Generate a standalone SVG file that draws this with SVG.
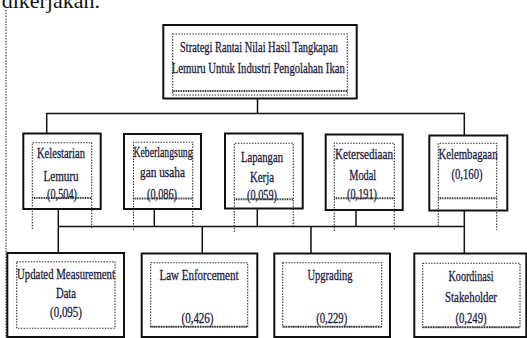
<svg xmlns="http://www.w3.org/2000/svg" width="527" height="338" viewBox="0 0 527 338">
<style>
.outer{fill:#fff;stroke:#111;stroke-width:2}
.inner{fill:none;stroke:#333;stroke-width:1.1;stroke-dasharray:1.5 1.3}
.wavy{fill:none;stroke:#333;stroke-width:2;stroke-dasharray:1 0.7}
.conn{fill:none;stroke:#111;stroke-width:1.5}
.dot{fill:none;stroke:#333;stroke-width:1.1;stroke-dasharray:1.5 1.3}
text{font-family:"Liberation Serif","Times New Roman",serif;font-size:14.5px;fill:#1c1c3c;stroke:#1c1c3c;stroke-width:0.3;text-anchor:middle}
.big{font-size:22px;fill:#111;stroke:none;text-anchor:end}
</style>
<rect width="527" height="338" fill="#fff"/>
<text class="big" x="100" y="8">dikerjakan.</text>
<line class="dot" x1="6" y1="10" x2="6" y2="338"/>

<g id="connectors">
<line class="conn" x1="257.5" y1="99" x2="257.5" y2="113.5"/>
<polyline class="conn" points="46.7,133.5 46.7,113.5 464.3,113.5 464.3,135.5"/>
<line class="conn" x1="58.3" y1="209" x2="58.3" y2="253"/>
<line class="conn" x1="154.3" y1="209" x2="154.3" y2="226.5"/>
<line class="conn" x1="257.3" y1="208.5" x2="257.3" y2="226.5"/>
<line class="conn" x1="356" y1="210" x2="356" y2="226.5"/>
<line class="conn" x1="464.3" y1="210.5" x2="464.3" y2="253"/>
<line class="conn" x1="58.3" y1="226.5" x2="464.3" y2="226.5"/>
<line class="conn" x1="202.3" y1="226.5" x2="202.3" y2="253.5"/>
<line class="conn" x1="311" y1="226.5" x2="311" y2="253.5"/>
</g>

<g id="root">
<rect class="outer" x="163.3" y="25" width="193.4" height="73.5"/>
<rect class="inner" x="172.7" y="34" width="174.6" height="61"/>
<line class="wavy" x1="172.7" y1="91" x2="347.3" y2="91"/>
<text x="259" y="52" textLength="158" lengthAdjust="spacingAndGlyphs">Strategi Rantai Nilai Hasil Tangkapan</text>
<text x="258.3" y="72.5" textLength="173" lengthAdjust="spacingAndGlyphs">Lemuru Untuk Industri Pengolahan Ikan</text>
</g>

<g id="kelestarian">
<rect class="outer" x="23.3" y="133.5" width="77.4" height="75.5"/>
<path class="inner" d="M32.3,229 V142.7 H91.7 V229"/>
<text x="61" y="157.5" textLength="48" lengthAdjust="spacingAndGlyphs">Kelestarian</text>
<text x="61" y="180.5" textLength="35" lengthAdjust="spacingAndGlyphs">Lemuru</text>
<text x="62" y="199" textLength="30" lengthAdjust="spacingAndGlyphs">(0,504)</text>
<line class="wavy" x1="32.3" y1="198" x2="91.7" y2="198"/>
</g>

<g id="keberlangsungan">
<rect class="outer" x="124" y="134" width="77" height="75"/>
<path class="inner" d="M133.5,230 V142.3 H192.7 V226"/>
<text x="163" y="157" textLength="59" lengthAdjust="spacingAndGlyphs">Keberlangsung</text>
<text x="162.5" y="177" textLength="45" lengthAdjust="spacingAndGlyphs">gan usaha</text>
<text x="162" y="199" textLength="30" lengthAdjust="spacingAndGlyphs">(0,086)</text>
<line class="wavy" x1="133.5" y1="198.5" x2="192.7" y2="198.5"/>
</g>

<g id="lapangan">
<rect class="outer" x="225" y="133.5" width="77.7" height="75"/>
<path class="inner" d="M234.3,232 V143.3 H293.3 V226"/>
<text x="262" y="161.7" textLength="42" lengthAdjust="spacingAndGlyphs">Lapangan</text>
<text x="262" y="181.7" textLength="24" lengthAdjust="spacingAndGlyphs">Kerja</text>
<text x="262" y="199.5" textLength="30" lengthAdjust="spacingAndGlyphs">(0,059)</text>
<line class="wavy" x1="234.3" y1="199.3" x2="293.3" y2="199.3"/>
</g>

<g id="ketersediaan">
<rect class="outer" x="325.7" y="134.5" width="77" height="75.5"/>
<path class="inner" d="M334.3,231 V143.3 H394.3 V230"/>
<text x="364" y="158.5" textLength="58" lengthAdjust="spacingAndGlyphs">Ketersediaan</text>
<text x="362.7" y="180" textLength="27" lengthAdjust="spacingAndGlyphs">Modal</text>
<text x="362" y="199" textLength="30" lengthAdjust="spacingAndGlyphs">(0,191)</text>
<line class="wavy" x1="334.3" y1="198.3" x2="394.3" y2="198.3"/>
</g>

<g id="kelembagaan">
<rect class="outer" x="429.3" y="135.5" width="78" height="75"/>
<path class="inner" d="M438.3,226 V143.3 H496.7 V230"/>
<text x="468" y="158.5" textLength="59" lengthAdjust="spacingAndGlyphs">Kelembagaan</text>
<text x="467" y="178.5" textLength="31" lengthAdjust="spacingAndGlyphs">(0,160)</text>
<line class="wavy" x1="438.3" y1="198.3" x2="496.7" y2="198.3"/>
</g>

<g id="updated">
<rect class="outer" x="7.3" y="253" width="116.7" height="84"/>
<rect class="inner" x="16.7" y="261.7" width="98.3" height="66.6"/>
<text x="66" y="279" textLength="98" lengthAdjust="spacingAndGlyphs">Updated Measurement</text>
<text x="66" y="298" textLength="20" lengthAdjust="spacingAndGlyphs">Data</text>
<text x="66" y="316.5" textLength="32" lengthAdjust="spacingAndGlyphs">(0,095)</text>
</g>

<g id="law">
<rect class="outer" x="141.7" y="253.5" width="115.6" height="83.5"/>
<rect class="inner" x="150.7" y="262.7" width="97" height="64"/>
<text x="199" y="280" textLength="79" lengthAdjust="spacingAndGlyphs">Law Enforcement</text>
<text x="197.5" y="323" textLength="32" lengthAdjust="spacingAndGlyphs">(0,426)</text>
<line class="wavy" x1="150.7" y1="326.7" x2="247.7" y2="326.7"/>
</g>

<g id="upgrading">
<rect class="outer" x="274.3" y="253.5" width="115.7" height="83.5"/>
<rect class="inner" x="282.7" y="262.7" width="99" height="64"/>
<text x="330" y="280" textLength="45" lengthAdjust="spacingAndGlyphs">Upgrading</text>
<text x="331.7" y="323" textLength="31" lengthAdjust="spacingAndGlyphs">(0,229)</text>
<line class="wavy" x1="282.7" y1="326.7" x2="381.7" y2="326.7"/>
</g>

<g id="koordinasi">
<rect class="outer" x="414.3" y="253.5" width="112" height="83.5"/>
<rect class="inner" x="422.7" y="263.3" width="97.3" height="64"/>
<text x="471" y="281" textLength="45" lengthAdjust="spacingAndGlyphs">Koordinasi</text>
<text x="471" y="302" textLength="52" lengthAdjust="spacingAndGlyphs">Stakeholder</text>
<text x="471" y="322.5" textLength="31" lengthAdjust="spacingAndGlyphs">(0,249)</text>
<line class="wavy" x1="422.7" y1="327.3" x2="520" y2="327.3"/>
</g>
</svg>
